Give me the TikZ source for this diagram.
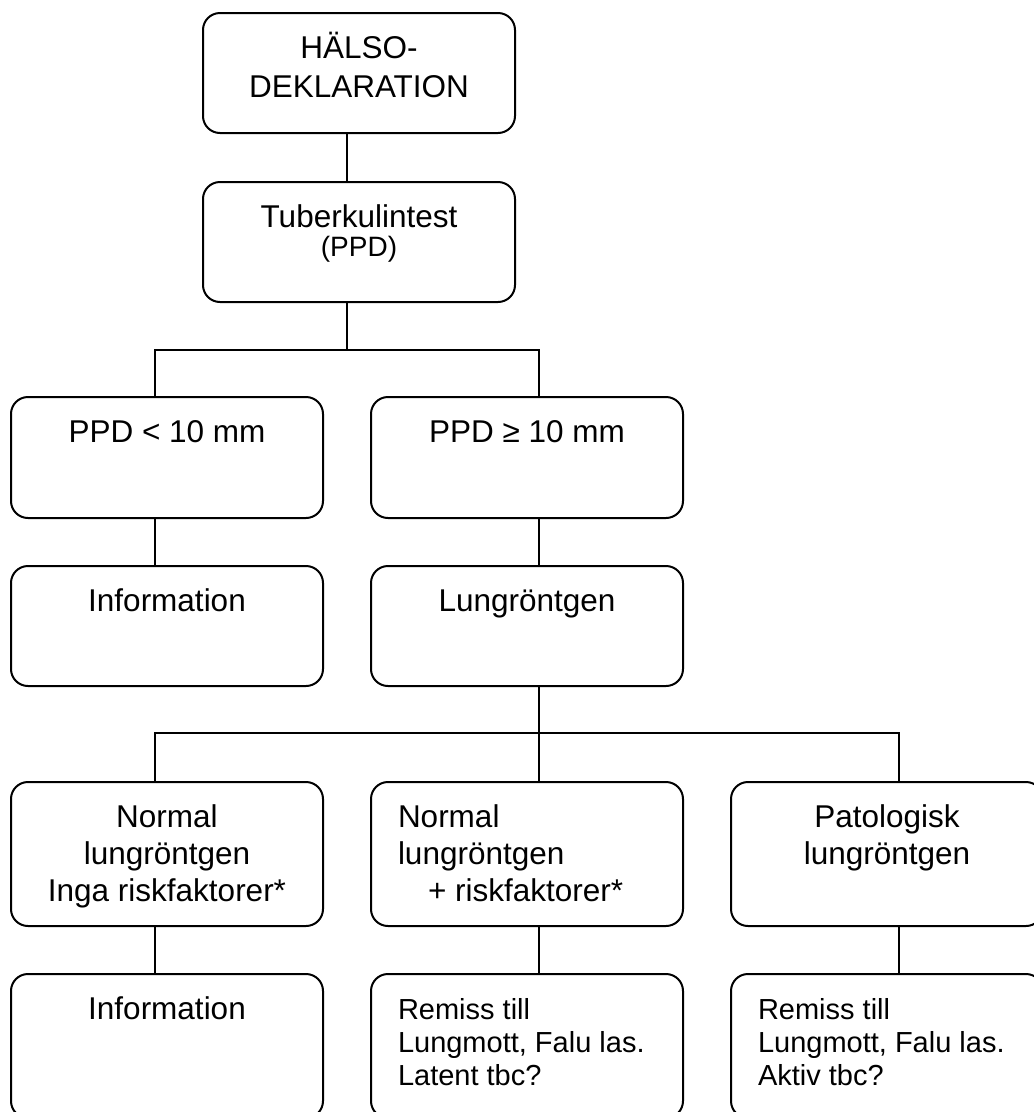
\documentclass[tikz,border=0pt]{standalone}
\usepackage{fontspec}
\setmainfont{Liberation Sans}
% box contents: height, text at the top
\newcommand{\boxc}[2]{\parbox[c][#1][t]{312pt}{\centering\rule{0pt}{45pt}#2}}
\newcommand{\boxl}[2]{\parbox[c][#1][t]{312pt}{\raggedright\leftskip=27pt\rule{0pt}{45pt}#2}}
\tikzset{
  box/.style={draw, line width=2pt, rounded corners=17pt, inner sep=0pt},
  link/.style={line width=1.7pt}
}
\begin{document}
\begin{tikzpicture}[x=1pt, y=-1pt, font=\fontsize{31.5}{37}\selectfont]
\useasboundingbox (0,0) rectangle (1034,1112);
\clip (0,0) rectangle (1034,1112);
\node[box] (hd) at (359,73) {\boxc{120pt}{HÄLSO-\\[2pt]DEKLARATION}};
\node[box] (tt) at (359,242) {\boxc{120pt}{Tuberkulintest\\[-8pt]{\fontsize{28}{30}\selectfont (PPD)}}};
\node[box] (lt10) at (167,457.5) {\boxc{121pt}{PPD < 10 mm}};
\node[box] (ge10) at (527,457.5) {\boxc{121pt}{PPD ≥ 10 mm}};
\node[box] (info1) at (167,626) {\boxc{120pt}{Information}};
\node[box] (lung) at (527,626) {\boxc{120pt}{Lungröntgen}};
\node[box] (norm1) at (167,854) {\boxc{144pt}{Normal\\lungröntgen\\Inga riskfaktorer*}};
\node[box] (norm2) at (527,854) {\boxl{144pt}{Normal\\lungröntgen\\\hspace*{30pt}+ riskfaktorer*}};
\node[box] (pato) at (887,854) {\boxc{144pt}{Patologisk\\lungröntgen}};
\node[box] (info2) at (167,1046) {\boxc{144pt}{Information}};
\node[box] (rem1) at (527,1046) {\fontsize{29}{33}\selectfont\boxl{144pt}{Remiss till\\Lungmott, Falu las.\\Latent tbc?}};
\node[box] (rem2) at (887,1046) {\fontsize{29}{33}\selectfont\boxl{144pt}{Remiss till\\Lungmott, Falu las.\\Aktiv tbc?}};
% split points
\coordinate (s1) at (347,350);
\coordinate (s2) at (539,733);
% connectors
\draw[link] ([xshift=-12pt]hd.south) -- ([xshift=-12pt]tt.north);
\draw[link] ([xshift=-12pt]tt.south) -- (s1);
\draw[link] ([xshift=-12pt]lt10.north) |- (s1) -| ([xshift=12pt]ge10.north);
\draw[link] ([xshift=-12pt]lt10.south) -- ([xshift=-12pt]info1.north);
\draw[link] ([xshift=12pt]ge10.south) -- ([xshift=12pt]lung.north);
\draw[link] ([xshift=12pt]lung.south) -- ([xshift=12pt]norm2.north);
\draw[link] ([xshift=-12pt]norm1.north) |- (s2) -| ([xshift=12pt]pato.north);
\draw[link] ([xshift=-12pt]norm1.south) -- ([xshift=-12pt]info2.north);
\draw[link] ([xshift=12pt]norm2.south) -- ([xshift=12pt]rem1.north);
\draw[link] ([xshift=12pt]pato.south) -- ([xshift=12pt]rem2.north);
\end{tikzpicture}
\end{document}
